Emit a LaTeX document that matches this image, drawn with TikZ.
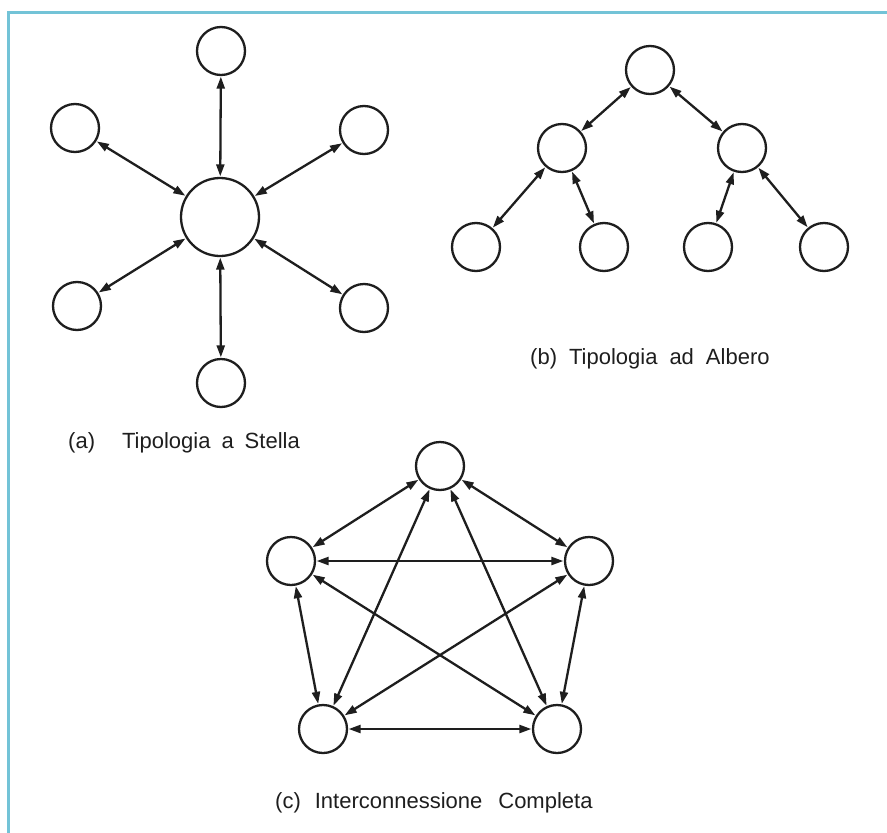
\documentclass[tikz,border=0pt]{standalone}
\usepackage{fontspec}
\setmainfont{Liberation Sans}
\usetikzlibrary{arrows.meta}
\definecolor{frameblue}{RGB}{115,195,215}
\definecolor{inkgray}{RGB}{30,30,30}
\tikzset{
  nd/.style={circle,draw=inkgray,line width=2.3pt,fill=white,minimum size=48pt,inner sep=0pt},
  hub/.style={nd,minimum size=78pt},
  link/.style={draw=inkgray,line width=2.3pt,{Triangle[length=12pt,width=8pt]}-{Triangle[length=12pt,width=8pt]},shorten <=0.5pt,shorten >=0.5pt},
  caption/.style={anchor=base west,inner sep=0pt,text=inkgray,font=\fontsize{22}{26}\selectfont}
}
\begin{document}
\begin{tikzpicture}[x=1pt,y=-1pt]
\useasboundingbox (0,0) rectangle (887,833);
\fill[white] (0,0) rectangle (887,833);
% frame edges
\draw[frameblue,line width=2.4pt] (8.5,833) -- (8.5,12.5) -- (887,12.5);

% (a) star topology
\node[hub] (c) at (220,217) {};
\node[nd] (s1) at (221,51) {};
\node[nd] (s2) at (75,128) {};
\node[nd] (s3) at (364,130) {};
\node[nd] (s4) at (77,306) {};
\node[nd] (s5) at (364,308) {};
\node[nd] (s6) at (221,383) {};
\foreach \s in {s1,s2,s3,s4,s5,s6} \draw[link] (c) -- (\s);
\node[caption] (capa) at (68,448) {(a)\hspace{27pt}Tipologia\hspace{11pt}a\hspace{11pt}Stella};

% (b) tree topology
\node[nd] (r) at (650,70) {};
\node[nd] (m1) at (562,148) {};
\node[nd] (m2) at (742,148) {};
\node[nd] (l1) at (476,247) {};
\node[nd] (l2) at (604,247) {};
\node[nd] (l3) at (708,247) {};
\node[nd] (l4) at (824,247) {};
\draw[link] (r) -- (m1);
\draw[link] (r) -- (m2);
\draw[link] (m1) -- (l1);
\draw[link] (m1) -- (l2);
\draw[link] (m2) -- (l3);
\draw[link] (m2) -- (l4);
\node[caption] (capb) at (530,364) {(b)\hspace{12pt}Tipologia\hspace{12pt}ad\hspace{12pt}Albero};

% (c) full interconnection
\node[nd] (p1) at (440,466) {};
\node[nd] (p2) at (291,561) {};
\node[nd] (p3) at (589,561) {};
\node[nd] (p4) at (323,729) {};
\node[nd] (p5) at (557,729) {};
\draw[link] (p1) -- (p2);
\draw[link] (p1) -- (p3);
\draw[link] (p1) -- (p4);
\draw[link] (p1) -- (p5);
\draw[link] (p2) -- (p3);
\draw[link] (p2) -- (p4);
\draw[link] (p2) -- (p5);
\draw[link] (p3) -- (p4);
\draw[link] (p3) -- (p5);
\draw[link] (p4) -- (p5);
\node[caption] (capc) at (275,808) {(c)\hspace{14pt}Interconnessione\hspace{16pt}Completa};
\end{tikzpicture}
\end{document}
